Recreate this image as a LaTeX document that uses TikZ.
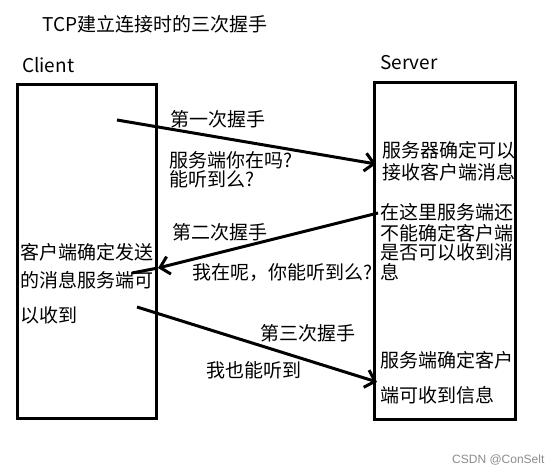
\documentclass[tikz,border=0pt]{standalone}
\usepackage{fontspec}
\setmainfont{Noto Sans CJK SC}
\newfontfamily\wmfont{Liberation Sans}
\usetikzlibrary{arrows.meta}
\begin{document}
\begin{tikzpicture}[x=1pt,y=-1pt,
  boxstyle/.style={draw,line width=3pt,inner sep=0pt},
  txt/.style={anchor=base west,inner sep=0pt,font=\fontsize{19}{19}\selectfont},
  msg/.style={line width=3pt,-{Straight Barb[length=9pt,width=18pt,line width=3pt]}},
  plainline/.style={line width=3pt}]
\useasboundingbox (0,0) rectangle (560,474);
\node[boxstyle,minimum width=139pt,minimum height=334pt] (client) at (86.5,251) {};
\node[boxstyle,minimum width=141pt,minimum height=337pt] (server) at (444.5,250.5) {};

\node[txt] (title) at (42,31) {TCP建立连接时的三次握手};
\node[txt] (clientlbl) at (22,72) {Client};
\node[txt] (serverlbl) at (380,69) {Server};

\node[txt] (h1) at (170,126) {第一次握手};
\node[txt] (q1a) at (169,167) {服务端你在吗?};
\node[txt] (q1b) at (169,186) {能听到么?};

\node[txt] (s1a) at (382,157) {服务器确定可以};
\node[txt] (s1b) at (382,179) {接收客户端消息};
\node[txt] (s2a) at (380,219) {在这里服务端还};
\node[txt] (s2b) at (380,240) {不能确定客户端};
\node[txt] (s2c) at (380,259) {是否可以收到消};
\node[txt] (s2d) at (380,279) {息};

\node[txt] (h2) at (172,239) {第二次握手};
\node[txt] (q2) at (192,279) {我在呢，你能听到么?};

\node[txt] (c1) at (20,259) {客户端确定发送};
\node[txt] (c2) at (20,287) {的消息服务端可};
\node[txt] (c3) at (20,322) {以收到};

\node[txt] (h3) at (260,340) {第三次握手};
\node[txt] (q3) at (206,377) {我也能听到};

\node[txt] (s3a) at (380,367) {服务端确定客户};
\node[txt] (s3b) at (380,402) {端可收到信息};

\node[anchor=base west,inner sep=0pt,font=\wmfont\fontsize{12}{12}\selectfont,text=black!45] (wm) at (452,463) {CSDN @ConSelt};

\coordinate (a1s) at (117,120);
\coordinate (a1e) at (376,164);
\coordinate (a2s) at (378,213);
\coordinate (a2e) at (158,268);
\coordinate (a2t) at (132,273);
\coordinate (a3s) at (137,307);
\coordinate (a3e) at (377,382);

\draw[msg] (a1s) -- (a1e);
\draw[msg] (a2s) -- (a2e);
\draw[plainline] (a2e) -- (a2t);
\draw[msg] (a3s) -- (a3e);
\end{tikzpicture}
\end{document}
